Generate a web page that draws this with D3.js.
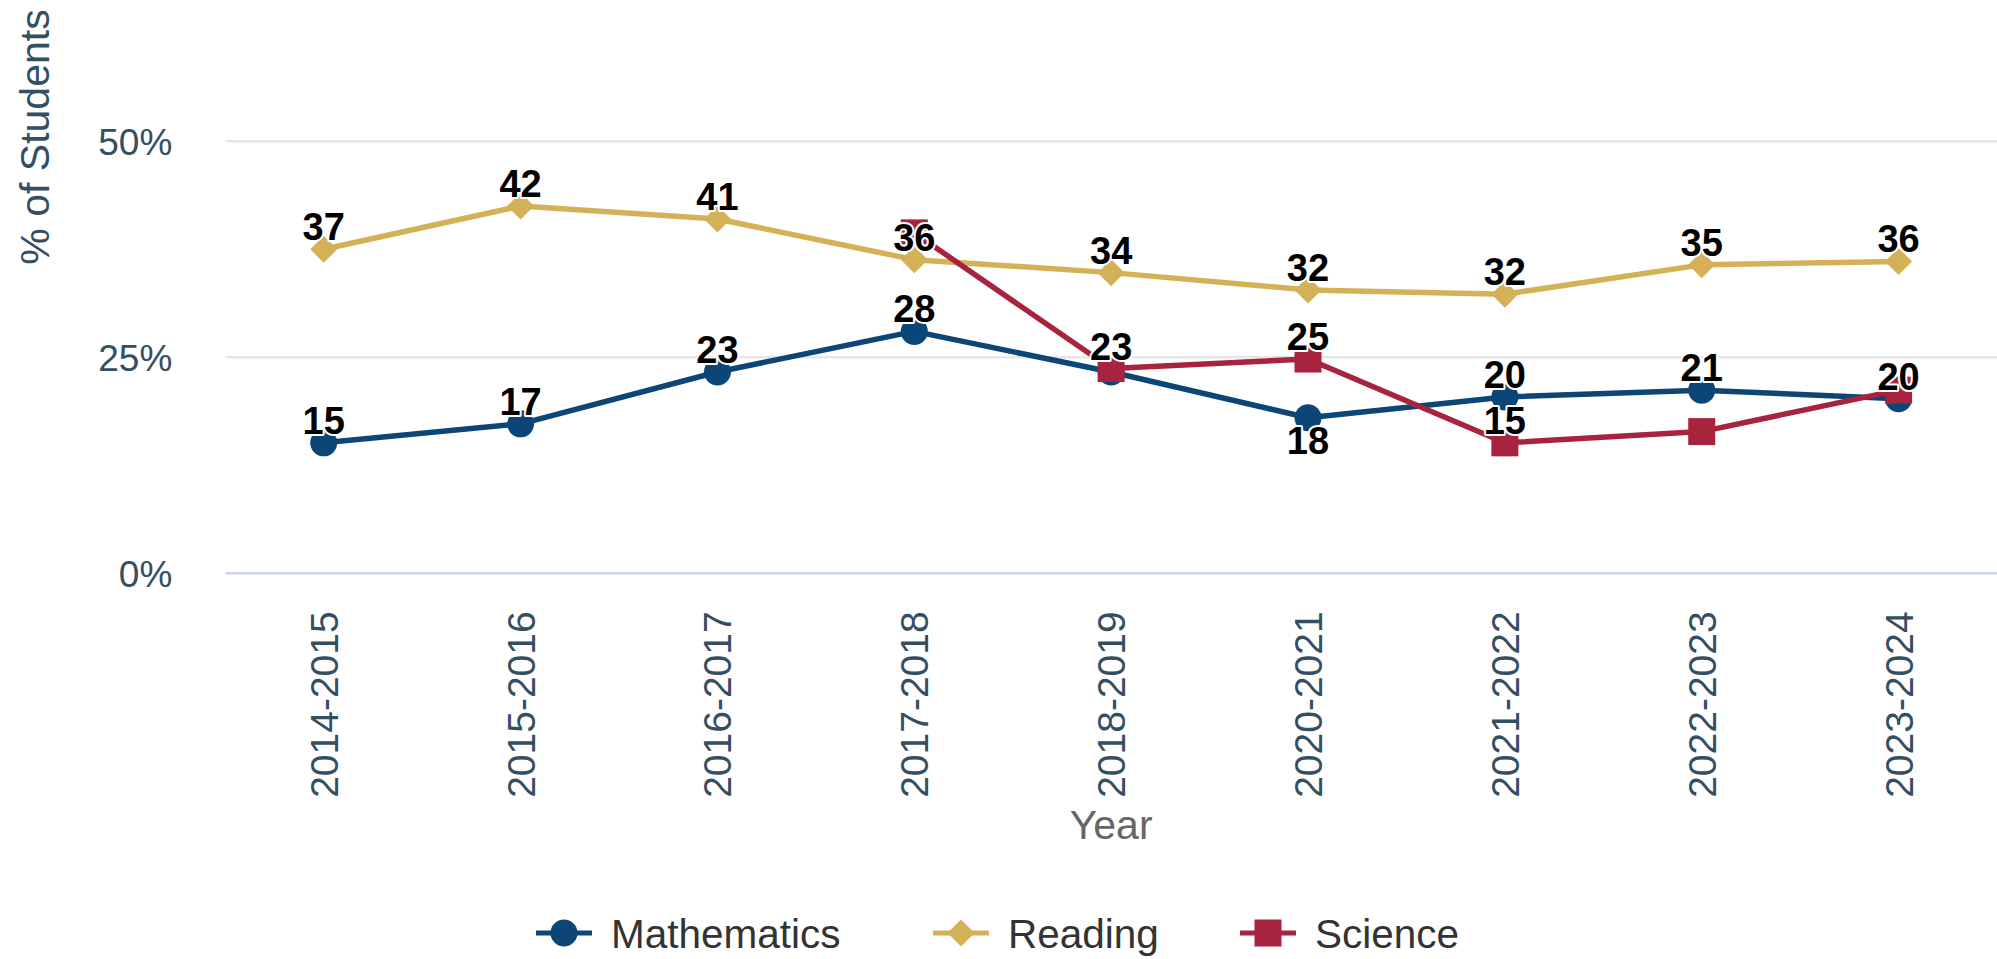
<!DOCTYPE html>
<html>
<head>
<meta charset="utf-8">
<script src="https://cdn.jsdelivr.net/npm/d3@7"></script>
<style>
  html, body { margin: 0; padding: 0; background: #ffffff; }
  svg { display: block; font-family: "Liberation Sans", Arial, Helvetica, sans-serif; }
</style>
</head>
<body>
<svg id="chart" width="1997" height="959"></svg>
<script>
// ---- data ----
const categories = ["2014-2015","2015-2016","2016-2017","2017-2018","2018-2019","2020-2021","2021-2022","2022-2023","2023-2024"];
const mathValues    = [15.1, 17.3, 23.3, 28.0, 23.3, 18.0, 20.4, 21.2, 20.2];
const readingValues = [37.5, 42.5, 41.0, 36.3, 34.8, 32.8, 32.3, 35.7, 36.1];
const scienceValues = [null, null, null, 39.4, 23.7, 24.8, 15.1, 16.4, 21.2];
const mathLabels    = ["15","17","23","28",null,"18","20","21","20"];
const readingLabels = ["37","42","41","36","34","32","32","35","36"];
const scienceLabels = [null,null,null,null,"23","25","15",null,null];
// label placement relative to the point: 1 = above, -1 = below
const mathLabelSide    = [1,1,1,1,1,-1,1,1,1];
const readingLabelSide = [1,1,1,1,1,1,1,1,1];
const scienceLabelSide = [1,1,1,1,1,1,1,1,1];
const seriesNames   = ["Mathematics","Reading","Science"];
const yTicks = [0, 25, 50];
const yTickLabels = ["0%","25%","50%"];

// ---- styles ----
const colors = ["#0b4677", "#d4b157", "#a8233e"];
const shapes = ["circle", "diamond", "square"];
const series = seriesNames.map((name, i) => ({
  name,
  values: [mathValues, readingValues, scienceValues][i],
  labels: [mathLabels, readingLabels, scienceLabels][i],
  sides: [mathLabelSide, readingLabelSide, scienceLabelSide][i],
  color: colors[i],
  shape: shapes[i]
}));

const svg = d3.select("#chart");
const plotLeft = 225.3, plotRight = 1997, y0 = 573.3, y50 = 141.3;

const x = d3.scaleBand().domain(categories).range([plotLeft, plotRight]).padding(0);
const cx = c => x(c) + x.bandwidth() / 2;
const y = d3.scaleLinear().domain([0, 50]).range([y0, y50]);

// gridlines
svg.append("g").selectAll("line").data(yTicks).join("line")
  .attr("x1", plotLeft).attr("x2", plotRight)
  .attr("y1", d => y(d)).attr("y2", d => y(d))
  .attr("stroke", d => d === 0 ? "#ccd6eb" : "#e6e6e6")
  .attr("stroke-width", 2.6);

// y axis labels
const yAxis = svg.append("g").attr("transform", `translate(${plotLeft},0)`)
  .call(d3.axisLeft(y).tickValues(yTicks).tickSize(0).tickPadding(53)
    .tickFormat(d => yTickLabels[yTicks.indexOf(d)]));
yAxis.select(".domain").remove();
yAxis.selectAll("text")
  .attr("font-size", 37).attr("fill", "#344e62")
  .attr("font-family", "Liberation Sans, Arial, sans-serif")
  .attr("dy", "0.36em");

// y axis title
svg.append("text")
  .attr("transform", "translate(49,137) rotate(-90)")
  .attr("text-anchor", "middle")
  .attr("font-size", 41).attr("fill", "#344e62")
  .text("% of Students");

// x axis labels
const xAxis = svg.append("g").attr("transform", `translate(0,${y0})`)
  .call(d3.axisBottom(x).tickSize(0));
xAxis.select(".domain").remove();
xAxis.selectAll("text")
  .attr("transform", "rotate(-90)")
  .attr("x", -38).attr("y", 0).attr("dy", "0.36em")
  .attr("text-anchor", "end")
  .attr("font-size", 39).attr("fill", "#344e62")
  .attr("font-family", "Liberation Sans, Arial, sans-serif");

// x axis title
svg.append("text")
  .attr("x", (plotLeft + plotRight) / 2).attr("y", 839)
  .attr("text-anchor", "middle")
  .attr("font-size", 41).attr("fill", "#666666")
  .text("Year");

// marker path builder
function markerPath(shape, px, py) {
  const r = 13.5;
  if (shape === "circle") {
    const p = d3.path(); p.arc(px, py, 13.5, 0, 2 * Math.PI); return p.toString();
  }
  if (shape === "diamond") {
    return `M${px},${py - r}L${px + r},${py}L${px},${py + r}L${px - r},${py}Z`;
  }
  return `M${px - r},${py - r}L${px + r},${py - r}L${px + r},${py + r}L${px - r},${py + r}Z`;
}

// lines + markers
const line = d3.line()
  .defined(d => d.v != null)
  .x(d => cx(d.c)).y(d => y(d.v));

series.forEach(s => {
  const pts = categories.map((c, i) => ({ c, v: s.values[i], label: s.labels[i], side: s.sides[i] }));
  const g = svg.append("g");
  g.append("path").datum(pts)
    .attr("d", line).attr("fill", "none")
    .attr("stroke", s.color).attr("stroke-width", 5.5)
    .attr("stroke-linejoin", "round").attr("stroke-linecap", "round");
  g.selectAll("path.marker").data(pts.filter(d => d.v != null)).join("path")
    .attr("class", "marker")
    .attr("d", d => markerPath(s.shape, cx(d.c), y(d.v)))
    .attr("fill", s.color);
  s.pts = pts;
});

// data labels (on top of all series)
series.forEach(s => {
  svg.append("g").selectAll("text")
    .data(s.pts.filter(d => d.v != null && d.label != null)).join("text")
    .attr("x", d => cx(d.c))
    .attr("y", d => d.side > 0 ? y(d.v) - 9 : y(d.v) + 36)
    .attr("text-anchor", "middle")
    .attr("font-size", 38).attr("font-weight", "bold")
    .attr("fill", "#000000")
    .attr("stroke", "#ffffff").attr("stroke-width", 4)
    .attr("stroke-linejoin", "round")
    .attr("paint-order", "stroke")
    .text(d => d.label);
});

// legend
const legendX = [536, 933, 1240];
const legendY = 933;
const lg = svg.append("g").selectAll("g").data(series).join("g")
  .attr("transform", (d, i) => `translate(${legendX[i]},${legendY})`);
lg.append("line").attr("x1", 0).attr("x2", 56).attr("y1", 0).attr("y2", 0)
  .attr("stroke", d => d.color).attr("stroke-width", 5);
lg.append("path").attr("d", d => markerPath(d.shape, 28, 0)).attr("fill", d => d.color);
lg.append("text").attr("x", 75).attr("y", 14.5)
  .attr("font-size", 40.5).attr("fill", "#333333")
  .text(d => d.name);
</script>
</body>
</html>
